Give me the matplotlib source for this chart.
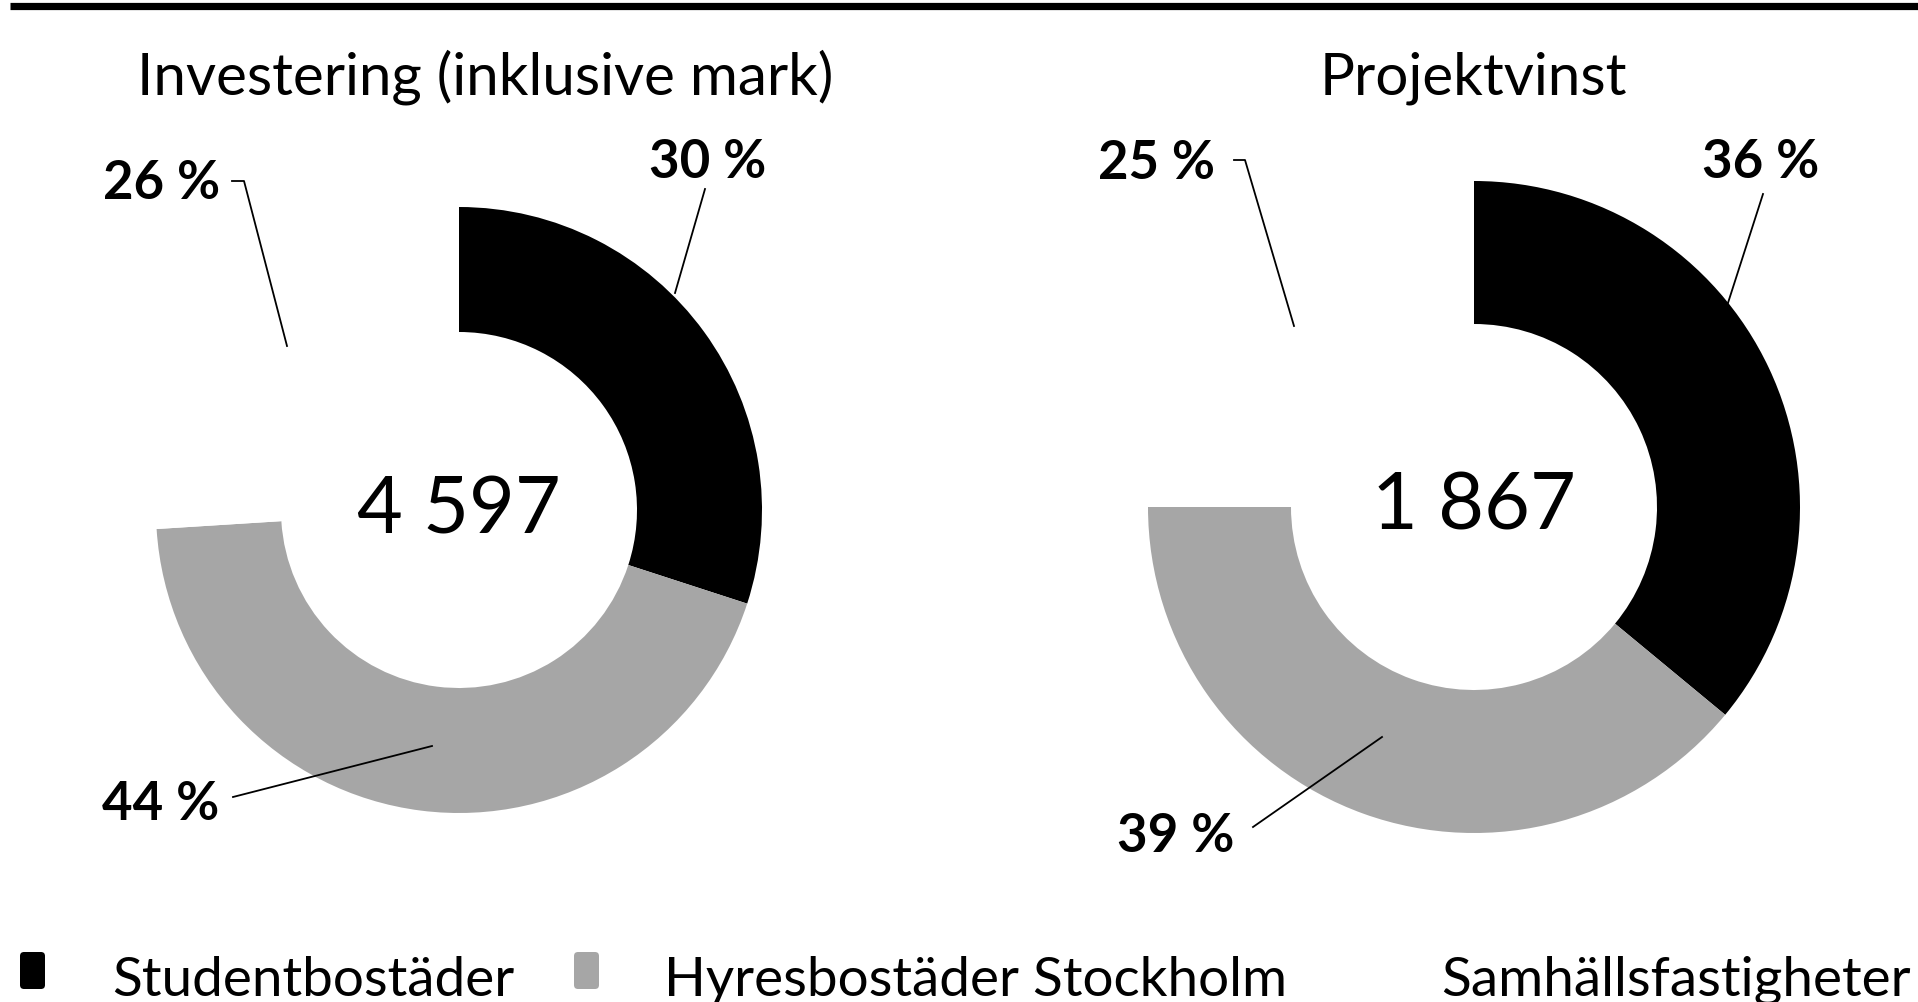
import matplotlib
matplotlib.use("Agg")
import matplotlib.pyplot as plt
from matplotlib.patches import FancyBboxPatch

plt.rcParams["font.family"] = ["Lato", "DejaVu Sans"]

# data
categories = ["Studentbostäder", "Hyresbostäder Stockholm", "Samhällsfastigheter"]
colors = ["#000000", "#a6a6a6", "#ffffff"]

titles = ["Investering (inklusive mark)", "Projektvinst"]
totals = ["4 597", "1 867"]
shares = [
    [30, 44, 26],
    [36, 39, 25],
]

# layout in pixels (y up)
W, H = 1918, 1003
centers = [(459, 492), (1474, 495)]
radii = [303, 326]
widths = [125, 143]
title_x = [485, 1473]

# label text centre and leader line points, per chart, per category
label_pos = [
    [(708, 841), (161, 198), (162, 820)],
    [(1761, 841), (1176, 166), (1157, 840)],
]
leaders = [
    [[(705, 813), (675, 709)],
     [(233, 205), (432, 256)],
     [(232, 821), (244, 821), (287, 656)]],
    [[(1763, 808), (1727, 696)],
     [(1253, 175), (1382, 265)],
     [(1234, 842), (1245, 842), (1294, 676)]],
]

fig = plt.figure(figsize=(W / 100, H / 100), dpi=100)
ax = fig.add_axes([0, 0, 1, 1])
ax.set_xlim(0, W)
ax.set_ylim(0, H)
ax.set_aspect("equal")
ax.axis("off")

# top rule
ax.plot([10, W], [H - 7, H - 7], color="black", lw=5.2, solid_capstyle="butt")

for i in range(2):
    ax.pie(shares[i], colors=colors, startangle=90, counterclock=False,
           center=centers[i], radius=radii[i],
           wedgeprops=dict(width=widths[i], linewidth=0))
    ax.text(title_x[i], 909, titles[i], fontsize=42, ha="center", va="baseline")
    ax.text(centers[i][0], centers[i][1], totals[i], fontsize=57,
            ha="center", va="center")
    for j, val in enumerate(shares[i]):
        tx, ty = label_pos[i][j]
        ax.text(tx, ty, f"{val} %", fontsize=38, fontweight="bold",
                ha="center", va="center")
        xs = [p[0] for p in leaders[i][j]]
        ys = [p[1] for p in leaders[i][j]]
        ax.plot(xs, ys, color="black", lw=1.3)

# legend
ax.set_xlim(0, W)
ax.set_ylim(0, H)
sq_x = [20, 574, 1360]
txt_x = [112, 664, 1441]
for k, name in enumerate(categories):
    ax.add_patch(FancyBboxPatch((sq_x[k], 13), 25, 37,
                                boxstyle="round,pad=0,rounding_size=4",
                                facecolor=colors[k], edgecolor="none"))
    ax.text(txt_x[k], 7, name, fontsize=39.5, ha="left", va="baseline")

fig.savefig("out.png", dpi=100)
